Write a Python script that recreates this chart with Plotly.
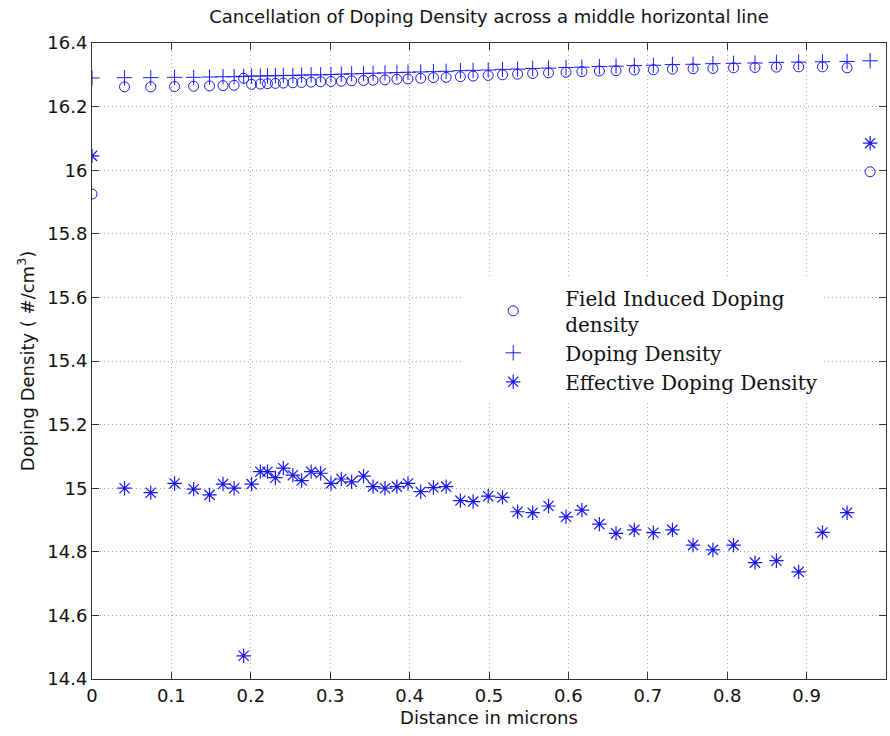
import plotly.graph_objects as go

# ---- data ----
distance = [0.000, 0.041, 0.074, 0.104, 0.128, 0.148, 0.165, 0.179, 0.191, 0.201,
            0.212, 0.221, 0.231, 0.241, 0.253, 0.264, 0.276, 0.288, 0.301, 0.314,
            0.327, 0.342, 0.354, 0.369, 0.384, 0.398, 0.414, 0.430, 0.446, 0.464,
            0.480, 0.499, 0.517, 0.536, 0.555, 0.575, 0.597, 0.617, 0.639, 0.660,
            0.683, 0.707, 0.731, 0.757, 0.782, 0.808, 0.835, 0.862, 0.890, 0.920,
            0.951, 0.980]

field_induced = [15.925, 16.262, 16.262, 16.263, 16.264, 16.265, 16.266, 16.267, 16.289, 16.270,
                 16.271, 16.272, 16.273, 16.274, 16.275, 16.276, 16.277, 16.278, 16.279, 16.280,
                 16.281, 16.282, 16.283, 16.284, 16.286, 16.287, 16.289, 16.291, 16.292, 16.294,
                 16.296, 16.298, 16.300, 16.302, 16.304, 16.306, 16.308, 16.310, 16.312, 16.313,
                 16.315, 16.316, 16.318, 16.319, 16.320, 16.322, 16.323, 16.324, 16.325, 16.325,
                 16.322, 15.995]

doping = [16.290, 16.291, 16.291, 16.292, 16.292, 16.293, 16.294, 16.294, 16.295, 16.296,
          16.296, 16.297, 16.297, 16.298, 16.298, 16.299, 16.300, 16.300, 16.301, 16.302,
          16.303, 16.304, 16.305, 16.306, 16.307, 16.308, 16.309, 16.310, 16.311, 16.313,
          16.314, 16.315, 16.317, 16.318, 16.320, 16.321, 16.323, 16.324, 16.326, 16.327,
          16.329, 16.330, 16.332, 16.333, 16.335, 16.336, 16.337, 16.339, 16.340, 16.341,
          16.342, 16.344]

effective = [16.045, 15.000, 14.986, 15.015, 14.997, 14.979, 15.013, 15.000, 14.473, 15.013,
             15.052, 15.052, 15.033, 15.063, 15.041, 15.024, 15.052, 15.047, 15.015, 15.029,
             15.020, 15.038, 15.005, 15.000, 15.005, 15.015, 14.989, 15.002, 15.005, 14.961,
             14.958, 14.975, 14.971, 14.926, 14.923, 14.944, 14.910, 14.931, 14.887, 14.858,
             14.869, 14.860, 14.869, 14.821, 14.806, 14.821, 14.766, 14.772, 14.737, 14.861,
             14.923, 16.085]

series_names = ["Field Induced Doping<br>density", "Doping Density", "Effective Doping Density"]
x_ticks = [0, 0.1, 0.2, 0.3, 0.4, 0.5, 0.6, 0.7, 0.8, 0.9, 1]
y_ticks = [14.4, 14.6, 14.8, 15, 15.2, 15.4, 15.6, 15.8, 16, 16.2, 16.4]

BLUE = "rgb(25,25,235)"
SANS = "DejaVu Sans"

fig = go.Figure()
fig.add_trace(go.Scatter(
    x=distance, y=field_induced, mode="markers", name=series_names[0],
    marker=dict(symbol="circle-open", size=10, color=BLUE, line=dict(width=1, color=BLUE))))
fig.add_trace(go.Scatter(
    x=distance, y=doping, mode="markers", name=series_names[1],
    marker=dict(symbol="cross-thin-open", size=11, color=BLUE, line=dict(width=1, color=BLUE))))
fig.add_trace(go.Scatter(
    x=distance, y=effective, mode="markers", name=series_names[2],
    marker=dict(symbol="asterisk-open", size=12, color=BLUE, line=dict(width=1.2, color=BLUE))))

axis_common = dict(
    showline=True, linecolor="#333", linewidth=1, mirror="ticks",
    ticks="inside", ticklen=7, tickcolor="#333", tickwidth=1,
    showgrid=True, gridcolor="rgb(165,165,165)", griddash="1px,3px", gridwidth=1,
    zeroline=False, tickfont=dict(family=SANS, size=18, color="#111"),
)

fig.update_xaxes(range=[0, 1], tickvals=x_ticks, **axis_common,
                 title=dict(text="Distance in microns", font=dict(family=SANS, size=18, color="#111"),
                            standoff=6))
fig.update_yaxes(range=[14.4, 16.4], tickvals=y_ticks, **axis_common,
                 title=dict(text="Doping Density ( #/cm<sup>3</sup>)",
                            font=dict(family=SANS, size=18, color="#111"), standoff=8))

fig.update_layout(
    width=890, height=736,
    margin=dict(l=92, r=4, t=43, b=57),
    paper_bgcolor="white", plot_bgcolor="white",
    title=dict(text="Cancellation of Doping Density across a middle horizontal line",
               font=dict(family=SANS, size=18, color="#111"),
               x=0.5, xref="paper", xanchor="center",
               y=1 - 17 / 736, yref="container", yanchor="middle"),
    showlegend=True,
    legend=dict(x=0.465, y=0.63, xanchor="left", yanchor="top",
                bgcolor="white", borderwidth=0, itemwidth=94,
                font=dict(family="DejaVu Serif", size=20, color="#111"),
                traceorder="normal", tracegroupgap=0),
)

fig.write_html("out.html")
